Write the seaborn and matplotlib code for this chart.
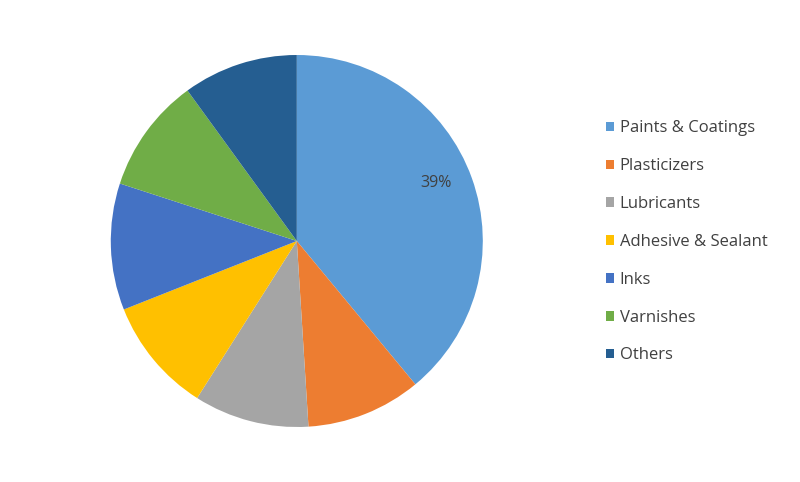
import matplotlib
matplotlib.use("Agg")
import matplotlib.pyplot as plt
import seaborn as sns
from matplotlib.patches import Patch

categories = ["Paints & Coatings", "Plasticizers", "Lubricants", "Adhesive & Sealant",
              "Inks", "Varnishes", "Others"]
shares = [39, 10, 10, 10, 11, 10, 10]
colors = ["#5B9BD5", "#ED7D31", "#A5A5A5", "#FFC000", "#4472C4", "#70AD47", "#255E91"]

sns.set_theme(style="white")
plt.rcParams['font.family'] = ['Open Sans', 'DejaVu Sans']

fig = plt.figure(figsize=(8, 4.82), dpi=100)
ax = fig.add_axes([0.1385, 0.114, 0.465, 0.772])

def show_pct(p):
    # only the big slice gets a label
    return "%d%%" % round(p) if p > 30 else ""

wedges, texts, autotexts = ax.pie(shares, colors=sns.color_palette(colors), startangle=90,
                                  counterclock=False, autopct=show_pct, pctdistance=0.815,
                                  radius=1, textprops={"fontsize": 11.5, "color": "#404040"},
                                  wedgeprops={"linewidth": 0})
autotexts[0].set_position((0.75, 0.31))
ax.set_xlim(-1, 1)
ax.set_ylim(-1, 1)
ax.set_aspect("equal")
ax.axis("off")

handles = [Patch(facecolor=c, edgecolor="none") for c in colors]
leg = fig.legend(handles, categories, loc="upper left", bbox_to_anchor=(0.757, 0.750),
                 frameon=False, fontsize=12, labelspacing=1.31, handlelength=0.5,
                 handleheight=0.5, handletextpad=0.35, borderaxespad=0, borderpad=0)
for t in leg.get_texts():
    t.set_color("#404040")

fig.savefig("out.png", dpi=100)
plt.close()
